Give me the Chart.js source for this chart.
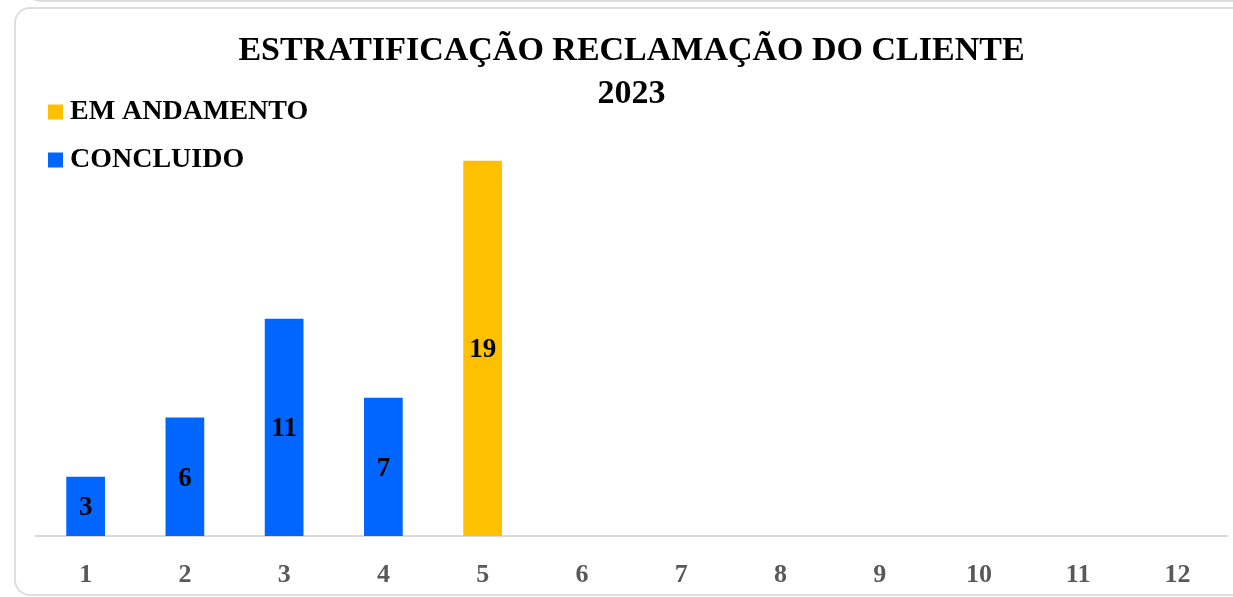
<!DOCTYPE html>
<html>
<head>
<meta charset="utf-8">
<script src="https://cdn.jsdelivr.net/npm/chart.js@4"></script>
<style>
  html, body { margin: 0; padding: 0; background: #ffffff; overflow: hidden; }
  #wrap { position: relative; width: 1233px; height: 597px; }
  #topcard { position: absolute; left: 25px; top: -40px; width: 1300px; height: 42px; border: 2px solid #dedede; border-radius: 16px; box-sizing: border-box; }
  #card { position: absolute; left: 14px; top: 7px; width: 1300px; height: 589px; border: 2px solid #dedede; border-radius: 16px; box-sizing: border-box; background: #fff; }
  canvas { position: absolute; left: 0; top: 0; }
</style>
</head>
<body>
<div id="wrap">
  <div id="topcard"></div>
  <div id="card"></div>
  <canvas id="c" width="1233" height="597"></canvas>
</div>
<script>
const categories = ['1','2','3','4','5','6','7','8','9','10','11','12'];
const emAndamento = [null, null, null, null, 19, null, null, null, null, null, null, null];
const concluido = [3, 6, 11, 7, null, null, null, null, null, null, null, null];
const seriesNames = ['EM ANDAMENTO', 'CONCLUIDO'];
const titleLines = ['ESTRATIFICAÇÃO RECLAMAÇÃO DO CLIENTE', '2023'];

const YELLOW = '#FFC000';
const BLUE = '#0066FF';
const FONT = '"Liberation Serif", "Times New Roman", serif';

const valueLabels = {
  id: 'valueLabels',
  afterDatasetsDraw(chart) {
    const ctx = chart.ctx;
    ctx.save();
    ctx.font = 'bold 27px ' + FONT;
    ctx.fillStyle = '#000';
    ctx.textAlign = 'center';
    ctx.textBaseline = 'middle';
    chart.data.datasets.forEach((ds, i) => {
      const meta = chart.getDatasetMeta(i);
      meta.data.forEach((el, j) => {
        const v = ds.data[j];
        if (v === null || v === undefined) return;
        ctx.fillText(String(v), el.x, (el.y + el.base) / 2 + 2);
      });
    });
    ctx.restore();
  }
};

const sideLegend = {
  id: 'sideLegend',
  afterDraw(chart) {
    const ctx = chart.ctx;
    ctx.save();
    ctx.font = 'bold 28px ' + FONT;
    ctx.textAlign = 'left';
    ctx.textBaseline = 'middle';
    const x0 = 48, y0 = 112, step = 48, box = 15;
    chart.data.datasets.forEach((ds, i) => {
      const y = y0 + i * step;
      ctx.fillStyle = ds.backgroundColor;
      ctx.fillRect(x0, y - box / 2, box, box);
      ctx.fillStyle = '#000';
      ctx.fillText(ds.label, x0 + 22, y);
    });
    ctx.restore();
  }
};

new Chart(document.getElementById('c'), {
  type: 'bar',
  data: {
    labels: categories,
    datasets: [
      { label: seriesNames[0], data: emAndamento, backgroundColor: YELLOW, barPercentage: 0.39, categoryPercentage: 1 },
      { label: seriesNames[1], data: concluido, backgroundColor: BLUE, barPercentage: 0.39, categoryPercentage: 1 }
    ]
  },
  options: {
    responsive: false,
    animation: false,
    events: [],
    layout: { padding: { left: 36, right: 6, top: 0, bottom: 9 } },
    plugins: {
      legend: { display: false },
      tooltip: { enabled: false },
      title: {
        display: true,
        text: titleLines,
        color: '#000',
        font: { family: FONT, size: 34, weight: 'bold', lineHeight: 1.265 },
        padding: { top: 30, bottom: 25 }
      }
    },
    scales: {
      x: {
        stacked: true,
        grid: { display: false, drawTicks: false },
        border: { display: true, color: '#d9d9d9', width: 2 },
        ticks: { color: '#595959', font: { family: FONT, size: 26, weight: 'bold' }, padding: 24 },
        afterFit(scale) { scale.height = 52; }
      },
      y: {
        stacked: true,
        display: false,
        min: 0,
        max: 20
      }
    }
  },
  plugins: [valueLabels, sideLegend]
});
</script>
</body>
</html>
